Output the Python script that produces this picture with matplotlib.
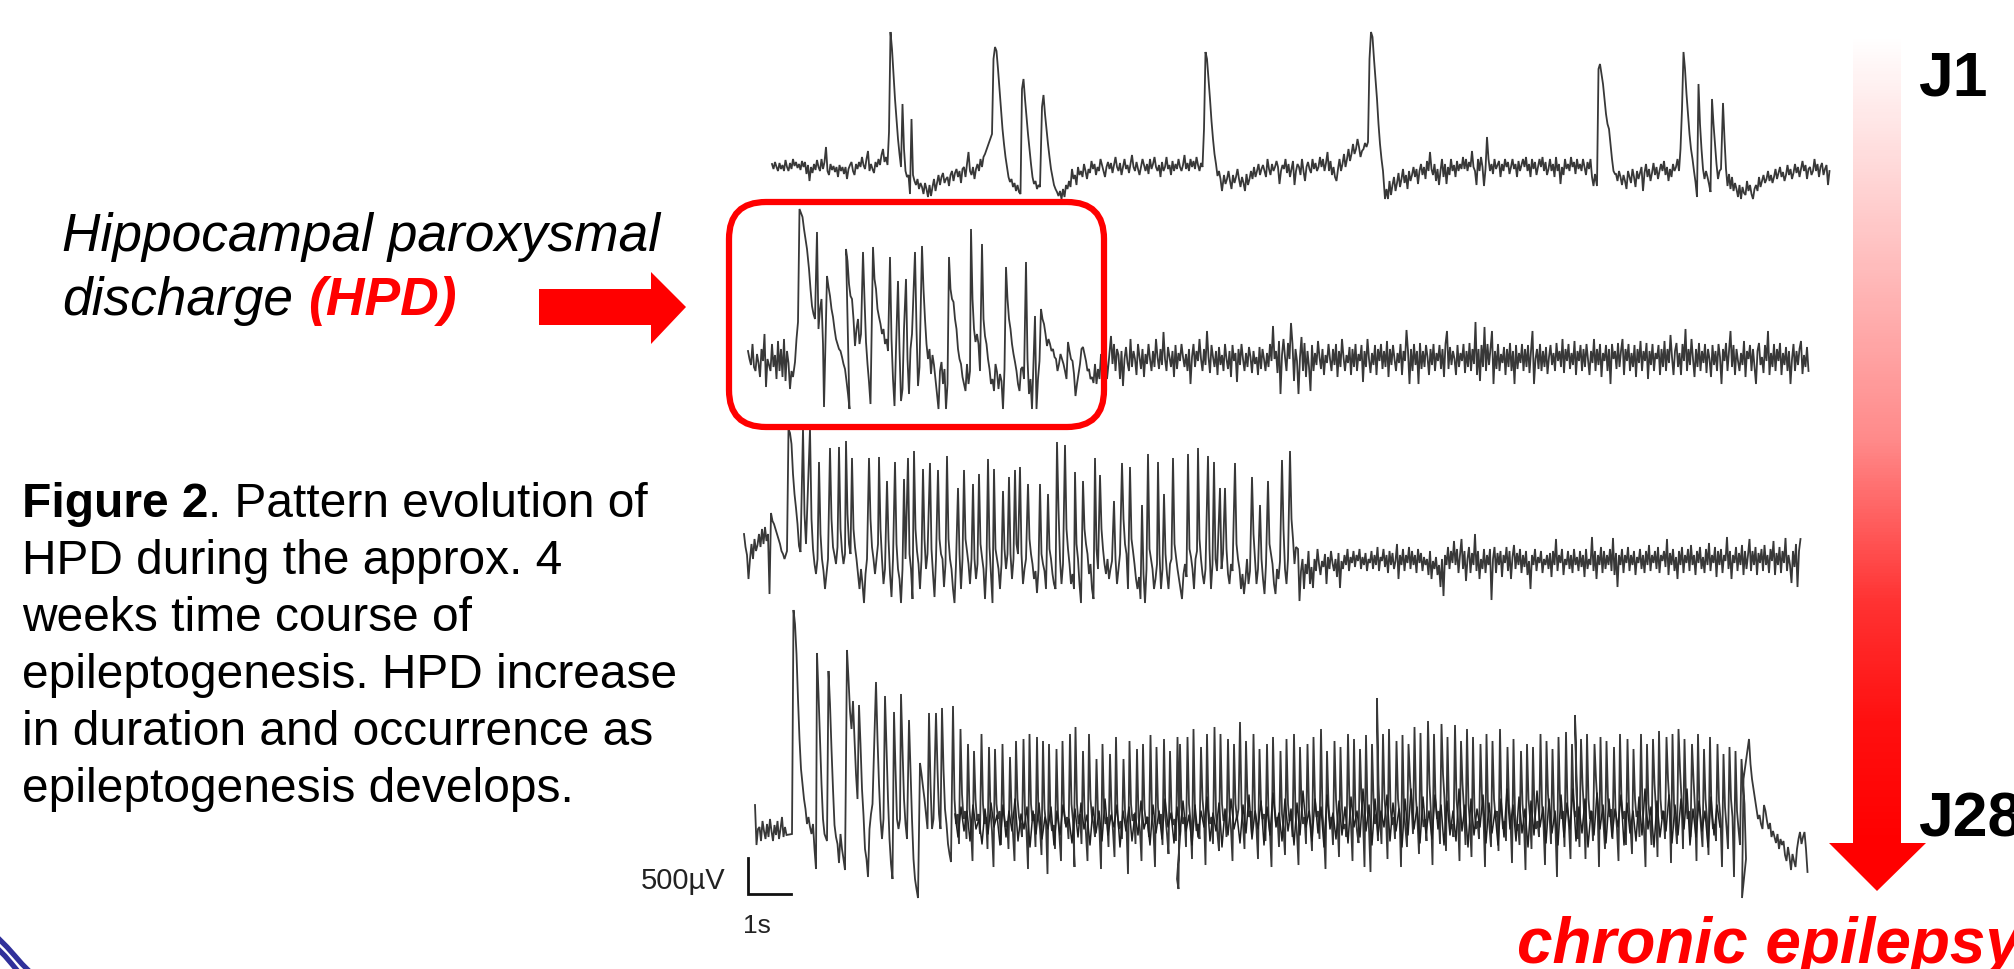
import matplotlib
matplotlib.use("Agg")
import matplotlib.pyplot as plt
import numpy as np
from matplotlib.colors import LinearSegmentedColormap
from matplotlib.patches import FancyBboxPatch, Polygon

plt.rcParams["font.family"] = ["Liberation Sans", "DejaVu Sans"]

# traces, one sample every 1.5 px, each piece starts at its own x
STEP = 1.5

j1_starts = [772, 889, 901, 992, 1022, 1042, 1204, 1224, 1368, 1385, 1597, 1616, 1682, 1697, 1712, 1723, 1732]
j1_pieces = [
    [165, 170, 163, 168, 172, 164, 170, 166, 172, 161, 168, 172, 164, 170, 160, 167, 163, 169, 165, 171,
     162, 168, 163, 175, 166, 182, 168, 174, 165, 171, 161, 168, 172, 160, 170, 163, 148, 172, 176, 165,
     171, 167, 173, 168, 178, 166, 172, 168, 175, 168, 180, 170, 166, 163, 172, 176, 165, 170, 163, 168,
     158, 166, 170, 160, 152, 172, 165, 170, 174, 163, 168, 160, 166, 156, 150, 163, 158, 166],
    [133, 33, 50, 75, 100, 120, 140, 155],
    [168, 105, 150, 172, 178, 176, 195, 120, 176, 182, 186, 180, 190, 184, 188, 195, 184, 190, 198, 186,
     197, 188, 180, 192, 184, 176, 186, 178, 174, 184, 180, 178, 187, 176, 172, 182, 174, 170, 178, 172,
     184, 170, 168, 178, 165, 153, 172, 176, 168, 180, 170, 165, 172, 160, 168, 158, 155],
    [135, 60, 48, 52, 70, 90, 110, 130, 145, 158, 168, 178, 183, 180, 188, 184, 192, 186, 193, 195],
    [90, 80, 100, 118, 135, 150, 165, 178, 185, 182, 190, 186, 188],
    [108, 96, 115, 130, 145, 158, 170, 178, 186, 190, 193, 197, 192, 200, 190, 198, 186, 190, 182, 188,
     170, 180, 176, 186, 168, 176, 172, 178, 165, 172, 180, 170, 174, 162, 170, 165, 176, 168, 172, 160,
     166, 172, 178, 168, 163, 170, 164, 174, 166, 158, 168, 172, 164, 176, 168, 160, 170, 166, 174, 165,
     156, 168, 172, 163, 170, 176, 168, 160, 166, 172, 165, 175, 160, 170, 165, 158, 168, 172, 166, 178,
     163, 172, 168, 158, 170, 166, 176, 162, 172, 165, 170, 160, 168, 172, 166, 156, 170, 164, 172, 160,
     168, 162, 170, 158, 166, 172, 164, 168],
    [130, 53, 60, 80, 100, 122, 140, 155, 165, 177, 172, 180, 192],
    [176, 185, 180, 172, 182, 190, 176, 184, 178, 170, 180, 188, 178, 184, 192, 175, 186, 180, 172, 180,
     168, 178, 172, 165, 176, 170, 166, 172, 178, 160, 170, 176, 165, 172, 168, 162, 168, 185, 172, 166,
     170, 160, 174, 165, 178, 170, 162, 186, 172, 165, 168, 176, 160, 172, 182, 168, 163, 170, 174, 160,
     170, 164, 172, 168, 158, 168, 160, 172, 164, 153, 172, 162, 176, 168, 178, 182, 170, 160, 172, 165,
     155, 168, 160, 150, 162, 155, 145, 155, 150, 140, 148, 158, 152, 150, 144, 148],
    [143, 60, 33, 38, 60, 80, 100, 125, 145, 160, 172],
    [200, 190, 200, 182, 196, 186, 178, 192, 184, 174, 188, 180, 170, 184, 176, 190, 172, 182, 176, 168,
     178, 170, 185, 172, 165, 176, 168, 180, 162, 172, 153, 170, 176, 165, 182, 170, 186, 172, 160, 178,
     165, 185, 168, 176, 160, 172, 166, 178, 162, 172, 165, 170, 158, 170, 160, 172, 163, 168, 152, 168,
     172, 186, 160, 172, 158, 168, 187, 170, 138, 160, 172, 165, 175, 160, 170, 166, 162, 178, 165, 172,
     160, 168, 163, 175, 168, 160, 170, 165, 178, 162, 172, 166, 160, 168, 158, 172, 165, 178, 160, 170,
     163, 176, 168, 160, 168, 158, 172, 163, 176, 170, 160, 172, 165, 178, 158, 172, 165, 185, 168, 176,
     160, 170, 165, 172, 158, 168, 163, 175, 160, 170, 165, 172, 160, 168, 176, 163, 170, 160, 178, 187, 175],
    [187, 70, 65, 75, 85, 100, 115, 125, 130, 145, 160, 172, 175],
    [175, 182, 172, 178, 186, 176, 182, 190, 172, 178, 184, 170, 178, 188, 172, 180, 174, 168, 192, 174,
     165, 178, 170, 182, 174, 164, 176, 168, 180, 172, 165, 172, 162, 176, 168, 182, 170, 178, 165, 172,
     168, 160, 172, 150],
    [110, 53, 70, 95, 115, 135, 150, 160, 172, 183],
    [198, 85, 125, 150, 170, 180, 172, 178, 185, 193],
    [100, 125, 145, 165, 180, 172, 170],
    [104, 140, 170, 187, 175, 190],
    [178, 192, 184, 190, 198, 186, 200, 188, 194, 196, 182, 192, 186, 195, 200, 190, 186, 192, 178, 188,
     182, 176, 184, 180, 172, 182, 176, 184, 178, 170, 180, 174, 168, 178, 173, 182, 176, 166, 176, 170,
     180, 174, 165, 174, 168, 178, 170, 162, 172, 166, 180, 170, 168, 176, 172, 160, 172, 165, 178, 168,
     164, 176, 170, 166, 186, 172],
]

j2_starts = [748, 795, 809, 817, 824, 827, 846, 863, 873, 890, 898, 906, 915, 922, 949, 971, 982, 1006, 1026, 1035, 1041, 1111]
j2_pieces = [
    [352, 360, 366, 345, 368, 372, 355, 364, 378, 350, 362, 335, 388, 360, 366, 372, 345, 368, 356, 380,
     342, 372, 350, 378, 340, 382, 352, 364, 390, 372, 378],
    [363, 340, 323, 210, 214, 218, 230, 240, 250],
    [270, 290, 307, 315, 320],
    [233, 330, 310, 300, 345],
    [408],
    [277, 288, 297, 310, 318, 330, 340, 345, 350, 352, 358, 365, 370, 382, 395, 410],
    [250, 262, 285, 297, 300, 320, 347, 330, 320, 345, 335],
    [253, 300, 343, 365, 383, 405],
    [248, 280, 290, 310, 318, 325, 335, 330, 345, 340, 352],
    [258, 340, 380, 407, 350],
    [282, 350, 402, 390, 330],
    [280, 360, 395, 350, 335],
    [253, 330, 387, 368],
    [247, 290, 320, 345, 360, 350, 375, 356, 366, 380, 395, 410, 372, 363, 385, 370, 410, 385],
    [258, 290, 300, 303, 320, 330, 350, 360, 365, 378, 385, 392, 365, 385, 372],
    [230, 300, 330, 343, 335, 345, 372],
    [245, 320, 337, 345, 360, 370, 385, 380, 392, 365, 373, 390, 375, 382, 410, 370],
    [268, 300, 320, 330, 345, 355, 363, 372, 385, 392, 370, 368, 380],
    [263, 360, 395, 380, 410],
    [317, 410, 380, 362],
    [310, 320, 325, 335, 347, 340, 345, 352, 350, 358, 360, 372, 365, 355, 360, 365, 372, 380, 343, 352,
     360, 362, 375, 397, 385, 375, 365, 350, 348, 355, 362, 372, 370, 380, 378, 384, 365, 385, 370, 380,
     355, 380, 365, 345, 380, 365],
    [337, 365, 345, 372, 350, 356, 380, 352, 387, 360, 348, 364, 372, 340, 368, 352, 360, 376, 345, 358,
     370, 350, 378, 355, 365, 345, 360, 372, 352, 368, 340, 358, 370, 350, 366, 333, 360, 372, 348, 358,
     368, 352, 378, 346, 370, 354, 362, 345, 358, 368, 355, 372, 350, 385, 358, 345, 368, 352, 362, 340,
     360, 372, 350, 366, 332, 358, 374, 346, 358, 368, 352, 376, 348, 366, 356, 372, 345, 360, 370, 352,
     378, 346, 362, 354, 383, 350, 366, 345, 360, 372, 354, 368, 348, 358, 374, 352, 365, 358, 376, 348,
     370, 350, 360, 372, 354, 368, 345, 362, 327, 360, 352, 374, 342, 395, 356, 340, 358, 372, 344, 360,
     324, 345, 382, 350, 362, 395, 358, 338, 372, 344, 378, 352, 368, 392, 346, 372, 354, 366, 342, 358,
     370, 350, 376, 356, 364, 345, 360, 372, 350, 366, 345, 378, 352, 368, 340, 358, 372, 356, 364, 348,
     376, 350, 368, 345, 372, 355, 362, 346, 383, 352, 368, 340, 360, 374, 354, 366, 346, 376, 350, 362,
     345, 370, 352, 368, 342, 378, 350, 366, 346, 360, 372, 354, 364, 345, 376, 352, 362, 331, 352, 385,
     350, 372, 345, 366, 352, 385, 344, 370, 352, 368, 346, 358, 376, 350, 366, 345, 372, 354, 362, 346,
     370, 350, 378, 345, 332, 370, 348, 366, 352, 360, 376, 346, 368, 354, 362, 345, 374, 352, 368, 344,
     372, 350, 365, 323, 376, 350, 382, 346, 368, 328, 372, 345, 366, 350, 332, 385, 352, 370, 345, 372,
     355, 364, 348, 376, 350, 368, 344, 372, 352, 385, 346, 370, 354, 364, 345, 372, 350, 368, 346, 374,
     352, 332, 385, 360, 350, 370, 345, 372, 352, 368, 348, 375, 358, 346, 366, 354, 372, 344, 362, 352,
     368, 340, 374, 350, 362, 345, 370, 354, 366, 342, 376, 352, 362, 346, 372, 350, 368, 345, 360, 376,
     352, 364, 340, 372, 350, 366, 345, 378, 354, 362, 346, 372, 350, 385, 345, 360, 352, 370, 344, 368,
     352, 340, 376, 350, 362, 345, 372, 354, 368, 346, 378, 350, 364, 342, 372, 352, 362, 344, 380, 352,
     366, 345, 372, 354, 360, 346, 376, 350, 368, 342, 372, 350, 364, 336, 358, 376, 352, 344, 368, 354,
     376, 345, 362, 330, 372, 350, 366, 340, 360, 378, 350, 368, 344, 372, 352, 364, 345, 374, 350, 360,
     378, 346, 366, 352, 372, 345, 358, 385, 350, 362, 344, 372, 352, 332, 368, 346, 376, 350, 362, 372,
     354, 366, 342, 378, 352, 360, 346, 372, 350, 368, 385, 352, 344, 366, 358, 374, 346, 362, 332, 376,
     354, 368, 345, 372, 350, 362, 344, 376, 354, 366, 348, 372, 352, 385, 360, 345, 372, 352, 366, 350,
     342, 375, 356, 368, 348, 372],
]

j3_starts = [744, 787, 803, 810, 819, 830, 839, 846, 852, 869, 879, 887, 895, 904, 908, 914, 923, 930, 938, 947,
             958, 964, 973, 979, 988, 994, 1003, 1009, 1015, 1020, 1028, 1040, 1048, 1057, 1065, 1075, 1083, 1095,
             1100, 1114, 1122, 1130, 1142, 1148, 1158, 1164, 1173, 1188, 1198, 1208, 1214, 1220, 1225, 1235, 1252,
             1260, 1268, 1282, 1290, 1298]
j3_pieces = [
    [535, 548, 556, 580, 560, 545, 560, 540, 552, 546, 535, 548, 530, 545, 528, 542, 535, 595, 514, 522,
     525, 530, 535, 540, 545, 552, 555, 560],
    [552, 430, 434, 445, 475, 495, 509, 525, 547, 553],
    [430, 515, 545],
    [430, 520, 550, 565, 575, 560],
    [463, 535, 560, 572, 590, 575, 560],
    [449, 520, 548, 556, 565, 548],
    [448, 530, 552, 565, 555],
    [442, 515, 545, 555],
    [459, 530, 548, 560, 575, 590, 570, 585, 604, 575, 560],
    [459, 520, 548, 560, 575, 560, 545],
    [458, 530, 560, 585, 570],
    [482, 540, 575, 598, 560],
    [463, 545, 570, 580, 604, 570],
    [480, 560],
    [459, 555, 570, 600],
    [452, 530, 552, 565, 590, 560],
    [470, 540, 570, 555],
    [464, 550, 575, 598, 560],
    [471, 540, 555, 560, 588, 565],
    [457, 540, 560, 570, 590, 604, 565],
    [489, 555, 590, 560],
    [471, 540, 552, 565, 585, 560],
    [485, 560, 580, 565],
    [475, 545, 558, 570, 600, 565],
    [460, 548, 575, 604],
    [470, 550, 560, 570, 590, 565],
    [492, 550, 570, 555],
    [478, 555, 580, 560],
    [471, 545, 555],
    [468, 555, 585, 570, 560],
    [485, 540, 555, 565, 580, 572, 594, 570],
    [485, 555, 565, 572, 590],
    [495, 550, 560, 575, 585, 590],
    [443, 510, 560, 585, 565],
    [446, 530, 550, 565, 585, 575, 590],
    [473, 545, 560, 585, 604],
    [482, 530, 545, 555, 575, 565, 590, 600],
    [459, 550, 570],
    [476, 530, 550, 565, 575, 560, 580, 570, 562],
    [502, 560, 585, 570, 555],
    [464, 520, 545, 555, 590],
    [468, 540, 552, 565, 580, 590, 578, 600],
    [506, 575, 604, 570],
    [455, 550, 560, 570, 590, 580, 565],
    [463, 555, 590, 570],
    [495, 555, 575, 590, 565, 560],
    [459, 545, 558, 570, 580, 590, 600, 575, 565, 578],
    [455, 550, 558, 570, 590, 560, 552],
    [449, 540, 560, 575, 585, 570],
    [457, 550, 590, 565],
    [463, 560, 572],
    [489, 570, 555],
    [489, 550, 575, 585, 565, 572],
    [464, 545, 560, 570, 590, 575, 595, 580, 560, 585, 572],
    [478, 535, 560, 585, 570],
    [506, 560, 580, 595, 565],
    [482, 545, 555, 565, 585, 595, 570, 580, 562],
    [461, 530, 570, 585, 560],
    [452, 520, 540, 565, 548],
    [550, 602, 572, 560, 590, 565, 575, 552, 585, 568, 589, 560, 572, 550, 565, 576, 562, 568, 555, 585,
     558, 570, 552, 564, 572, 560, 578, 554, 589, 562, 570, 556, 566, 550, 572, 558, 564, 552, 568, 556,
     562, 550, 570, 558, 566, 554, 572, 560, 564, 552, 570, 556, 566, 548, 572, 558, 562, 550, 568, 556,
     574, 552, 566, 554, 570, 562, 545, 580, 556, 566, 550, 572, 556, 564, 548, 570, 552, 566, 556, 574,
     550, 564, 554, 572, 558, 566, 560, 576, 552, 580, 562, 570, 558, 576, 566, 588, 560, 597, 556, 566,
     548, 570, 552, 564, 542, 566, 550, 574, 556, 540, 570, 552, 582, 560, 548, 574, 554, 566, 535, 572,
     552, 580, 560, 570, 550, 574, 556, 566, 550, 601, 560, 548, 574, 554, 566, 552, 578, 556, 564, 548,
     572, 552, 580, 558, 546, 570, 554, 566, 550, 574, 556, 568, 552, 576, 562, 590, 556, 566, 550, 572,
     558, 564, 552, 574, 560, 566, 556, 570, 554, 578, 552, 566, 540, 572, 556, 564, 550, 576, 560, 566,
     552, 570, 556, 574, 550, 566, 558, 572, 552, 568, 556, 578, 550, 570, 560, 566, 538, 572, 552, 580,
     556, 566, 548, 574, 552, 570, 556, 566, 550, 572, 539, 576, 554, 588, 556, 566, 550, 574, 556, 564,
     548, 572, 556, 566, 552, 576, 558, 564, 550, 570, 556, 574, 552, 566, 546, 572, 556, 564, 552, 570,
     548, 574, 556, 562, 552, 568, 540, 576, 554, 566, 550, 572, 558, 580, 552, 566, 548, 574, 556, 564,
     550, 572, 546, 566, 556, 576, 552, 564, 548, 570, 558, 574, 550, 566, 544, 572, 556, 564, 548, 578,
     552, 566, 550, 574, 556, 562, 538, 570, 552, 580, 556, 564, 548, 572, 554, 566, 546, 576, 552, 570,
     556, 540, 572, 552, 566, 548, 576, 554, 564, 550, 572, 546, 566, 556, 574, 550, 562, 542, 576, 554,
     566, 548, 574, 552, 564, 539, 572, 556, 566, 584, 552, 568, 545, 588, 552, 540],
]

j4_starts = [755, 792, 817, 827, 847, 876, 885, 894, 901, 909, 920, 929, 936, 942, 953, 1074, 1177, 1240, 1377, 1575, 1742, 1749]
j4_pieces = [
    [806, 846, 830, 828, 842, 822, 832, 840, 825, 838, 820, 832, 842, 826, 836, 822, 840, 830, 818, 838, 828, 836],
    [835, 611, 625, 655, 700, 740, 770, 785, 800, 810, 825, 818, 828, 835, 825, 850, 870],
    [654, 695, 740, 785, 820, 835],
    [842, 672, 705, 750, 790, 826, 838, 845, 864, 835, 850, 860, 871],
    [651, 680, 712, 730, 702, 740, 775, 800, 706, 745, 790, 816, 850, 860, 878, 830, 815, 805],
    [683, 740, 785, 820, 840, 820],
    [697, 750, 800, 840, 865, 880],
    [713, 770, 820, 830, 820],
    [695, 750, 800, 825, 840],
    [721, 770, 820, 860, 880, 890, 899],
    [764, 775, 788, 800, 815, 830],
    [714, 785, 830, 820],
    [714, 770, 815, 830],
    [709, 770, 810, 825, 845, 855, 863],
    [707, 800, 825, 815, 845, 730, 795, 820, 812, 840, 745, 810, 830, 862, 752, 800, 822, 815, 835, 735,
     805, 825, 818, 850, 748, 812, 832, 868, 750, 805, 820, 812, 846, 745, 815, 828, 822, 850, 758, 810,
     835, 862, 742, 800, 818, 825, 838, 740, 815, 832, 870, 735, 805, 822, 815, 848, 738, 818, 830, 856,
     742, 810, 825, 875, 745, 820, 832, 826, 850, 750, 815, 838, 862, 742, 810, 825, 818, 840, 735, 805,
     822, 868],
    [840, 728, 805, 825, 815, 845, 752, 812, 835, 862, 735, 800, 818, 825, 838, 760, 815, 832, 870, 745,
     808, 825, 818, 848, 755, 810, 832, 858, 738, 815, 830, 822, 840, 760, 812, 828, 875, 742, 805, 822,
     815, 845, 750, 818, 832, 862, 745, 810, 825, 818, 838, 736, 815, 832, 868, 748, 808, 825, 815, 846,
     740, 818, 835, 855, 752, 812, 826, 820, 842, 738, 815, 832],
    [880, 890, 745, 808, 825, 818, 848, 738, 805, 822, 860, 730, 815, 832, 825, 840, 748, 800, 818, 866,
     735, 810, 825, 818, 845, 728, 815, 835, 852, 735, 805, 822, 815, 838, 740, 812, 830, 862, 745, 805,
     820, 810],
    [723, 805, 825, 850, 742, 800, 818, 812, 838, 735, 810, 830, 860, 750, 805, 820, 815, 842, 745, 815,
     835, 868, 738, 805, 825, 818, 848, 752, 815, 830, 856, 740, 805, 822, 815, 838, 735, 815, 835, 866,
     748, 805, 825, 818, 845, 745, 810, 828, 852, 738, 800, 818, 812, 840, 730, 815, 835, 870, 752, 805,
     825, 818, 846, 742, 800, 822, 858, 748, 810, 830, 825, 838, 735, 805, 825, 862, 740, 815, 832, 844,
     750, 800, 818, 868, 736, 810, 830, 873, 745, 800, 825, 815, 842],
    [699, 785, 820, 845, 735, 800, 818, 860, 730, 808, 826, 818, 840, 742, 800, 815, 868, 736, 812, 830,
     848, 745, 780, 805, 835, 728, 800, 822, 855, 734, 810, 828, 820, 842, 722, 785, 815, 866, 735, 800,
     820, 812, 845, 725, 775, 800, 852, 738, 810, 830, 825, 838, 726, 800, 820, 862, 742, 785, 810, 846,
     730, 805, 825, 858, 738, 812, 830, 822, 840, 745, 800, 818, 868, 735, 808, 828, 848, 742, 800, 818,
     812, 852, 730, 810, 830, 822, 842, 748, 805, 822, 864, 740, 815, 832, 825, 846, 752, 805, 825, 871,
     745, 800, 818, 850, 748, 812, 830, 822, 838, 735, 805, 825, 866, 742, 795, 815, 845, 750, 810, 830,
     878, 738, 800, 820, 812, 848, 733, 808, 828, 860, 745, 800, 818, 812, 840],
    [716, 795, 818, 848, 740, 785, 812, 860, 735, 800, 820, 812, 842, 745, 780, 805, 868, 738, 805, 825,
     850, 742, 800, 818, 810, 840, 748, 810, 830, 862, 735, 800, 820, 812, 846, 740, 808, 828, 855, 750,
     800, 818, 812, 838, 735, 810, 830, 868, 745, 805, 822, 846, 740, 785, 810, 858, 732, 800, 820, 812,
     840, 738, 780, 805, 864, 735, 805, 825, 845, 730, 770, 800, 850, 740, 800, 820, 812, 838, 745, 780,
     810, 862, 735, 808, 828, 848, 750, 800, 820, 856, 738, 812, 830, 825, 842, 745, 802, 820, 868, 755,
     808, 828, 850, 748, 800, 818, 878, 752, 812, 830, 846, 760, 785, 805, 860],
    [899, 780],
    [740, 765, 780, 790, 800, 810, 820, 816, 825, 830, 806, 812, 822, 830, 824, 838, 832, 838, 844, 835,
     850, 840, 846, 842, 856, 862, 848, 858, 871, 855, 862, 868, 850, 840, 833, 845, 838, 833, 850, 873],
]

# dark fuzz of the last trace, one sample every 3 px from x = 955
j4_band = [
    815, 838, 808, 832, 812, 842, 806, 830, 820, 845, 810, 835, 804, 828, 816, 846, 806, 838, 812, 832,
    800, 842, 815, 830, 808, 848, 812, 835, 804, 840, 818, 830, 808, 846, 812, 836, 806, 828, 820, 844,
    810, 838, 804, 830, 816, 846, 808, 834, 812, 842, 800, 836, 816, 828, 806, 848, 812, 832, 808, 842,
    814, 836, 802, 830, 818, 846, 806, 834, 812, 840, 800, 828, 814, 844, 808, 836, 802, 832, 816, 846,
    806, 838, 812, 828, 798, 842, 814, 832, 804, 848, 810, 836, 800, 830, 816, 844, 806, 834, 796, 840,
    812, 830, 802, 846, 808, 836, 794, 828, 814, 842, 800, 832, 810, 846, 804, 836, 792, 828, 812, 842,
    800, 834, 808, 848, 796, 830, 814, 840, 802, 836, 808, 844, 798, 828, 812, 838, 790, 832, 806, 846,
    800, 836, 812, 828, 796, 842, 804, 832, 810, 848, 800, 836, 790, 830, 808, 844, 798, 834, 812, 840,
    796, 830, 806, 846, 802, 836, 812, 842, 790, 832, 806, 848, 800, 836, 810, 828, 796, 844, 804, 834,
    812, 846, 800, 838, 790, 830, 806, 842, 798, 834, 810, 848, 802, 836, 792, 828, 808, 844, 800, 834,
    812, 846, 796, 838, 804, 830, 790, 842, 808, 834, 800, 848, 812, 836, 794, 830, 806, 844, 800, 838,
    810, 828, 796, 846, 804, 834, 812, 842, 798, 836, 790, 830, 808, 848, 802, 838, 812, 832, 796, 844,
    806, 836, 800, 830, 790, 846, 810, 838, 802, 832, 812, 848, 798, 836, 806, 828,
]

text_left = ["Figure 2", ". Pattern evolution of", "HPD during the approx. 4", "weeks time course of",
             "epileptogenesis. HPD increase", "in duration and occurrence as", "epileptogenesis develops."]

# logo corner at the bottom left
logo_x1 = [0, 7, 15, 22, 27]
logo_y1 = [941, 948, 957, 965, 970]
logo_x2 = [0, 5, 11, 16]
logo_y2 = [952, 957, 964, 970]


def build(starts, pieces):
    xs, ys = [], []
    for s, p in zip(starts, pieces):
        xs.extend(s + STEP * np.arange(len(p)))
        ys.extend(p)
    return xs, ys


fig = plt.figure(figsize=(20.15, 9.7), dpi=100)
ax = fig.add_axes([0, 0, 1, 1])

for st, pc in [(j1_starts, j1_pieces), (j2_starts, j2_pieces), (j3_starts, j3_pieces), (j4_starts, j4_pieces)]:
    tx, ty = build(st, pc)
    ax.plot(tx, ty, color="#383838", lw=1.3, solid_joinstyle="miter")
ax.plot(955 + 3 * np.arange(len(j4_band)), j4_band, color="#202020", lw=1.1)

# red box on the first HPD
ax.add_patch(FancyBboxPatch((729 + 37, 203 + 37), 1104 - 729 - 74, 428 - 203 - 74,
                            boxstyle="round,pad=37,rounding_size=37", fc="none", ec="#ff0000", lw=4.5, zorder=3))

# red arrow to the box
ax.add_patch(Polygon([(539, 290), (651, 290), (651, 273), (686, 308), (651, 345), (651, 326), (539, 326)],
                     fc="#ff0000", ec="none"))

# time arrow, white to red
grad = LinearSegmentedColormap.from_list("wr", [(0, "#ffffff"), (0.5, "#ff8a8a"), (0.7, "#ff3333"),
                                                (0.85, "#ff1010"), (1, "#ff0000")])
ax.imshow(np.linspace(0, 1, 256)[:, None], cmap=grad, extent=[1853, 1901, 845, 37], aspect="auto", zorder=1)
ax.add_patch(Polygon([(1829, 844), (1926, 844), (1877, 892)], fc="#ff0000", ec="none"))

# scale bar
ax.plot([748, 748, 791], [859, 895, 895], color="#111111", lw=2, solid_joinstyle="miter")
ax.text(641, 889, "500\u00b5V", fontsize=21, color="#222222", va="baseline")
ax.text(743, 933, "1s", fontsize=19, color="#222222", va="baseline")

ax.plot(logo_x1, logo_y1, color="#30309a", lw=3.8)
ax.plot(logo_x2, logo_y2, color="#30309a", lw=3.8)

ax.text(62, 251, "Hippocampal paroxysmal", fontsize=38.3, style="italic", va="baseline")
ax.text(62, 315, "discharge", fontsize=38.3, style="italic", va="baseline")
ax.text(308, 315, "(HPD)", fontsize=38.5, style="italic", weight="bold", color="#ff0000", va="baseline")

ax.text(22, 517, text_left[0], fontsize=34.5, weight="bold", va="baseline")
ax.text(208, 517, text_left[1], fontsize=34.5, va="baseline")
for yb, line in zip([574, 631, 688, 745, 802], text_left[2:]):
    ax.text(22, yb, line, fontsize=34.5, va="baseline")

ax.text(1918, 96, "J1", fontsize=45, weight="bold", va="baseline")
ax.text(1918, 837, "J28", fontsize=45, weight="bold", va="baseline")
ax.text(1517, 963, "chronic epilepsy", fontsize=46, style="italic", weight="bold", color="#ff0000", va="baseline")

ax.set_xlim(0, 2015)
ax.set_ylim(970, 0)
ax.axis("off")

fig.savefig("out.png", dpi=100, facecolor="white")
